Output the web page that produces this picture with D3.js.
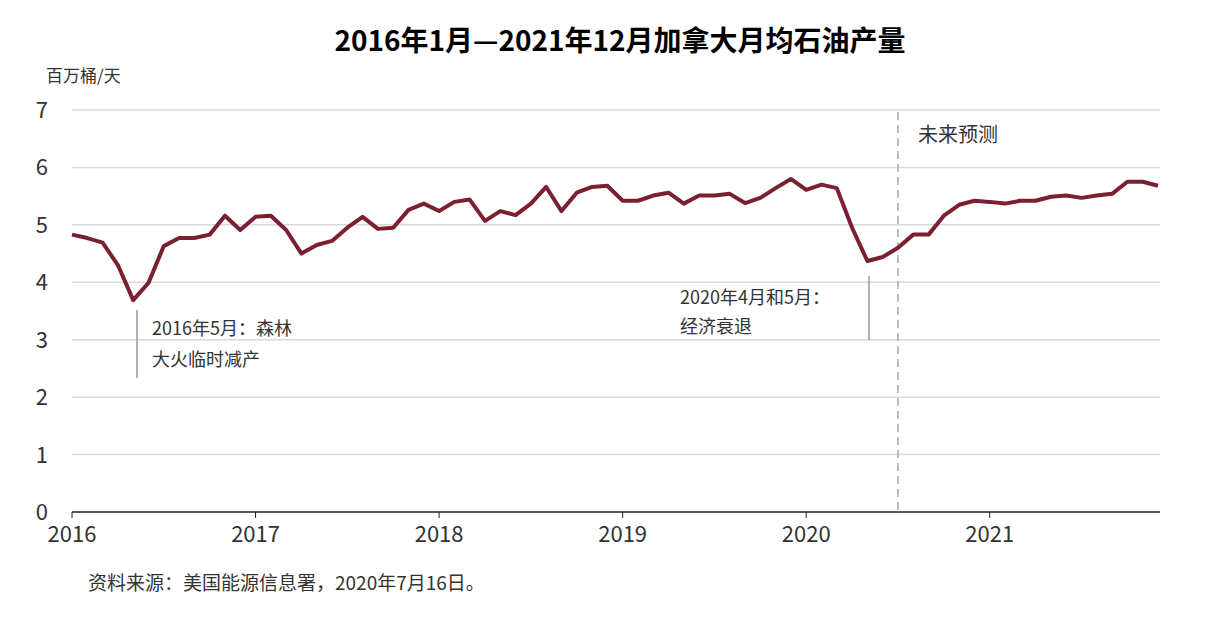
<!DOCTYPE html><html><head><meta charset="utf-8"><script src="https://cdn.jsdelivr.net/npm/d3@7"></script>
<style>body{margin:0;background:#fff}text{font-family:"Noto Sans CJK SC","Noto Sans",sans-serif}</style></head><body><svg id="c" width="1212" height="620"></svg><script>
const years=["2016","2017","2018","2019","2020","2021"];
const yTicks=[0,1,2,3,4,5,6,7];
const values=[4.83,4.77,4.69,4.3,3.69,3.99,4.63,4.77,4.77,4.83,5.16,4.91,
5.14,5.16,4.91,4.5,4.65,4.72,4.95,5.14,4.93,4.95,5.26,5.37,
5.24,5.4,5.44,5.07,5.24,5.17,5.37,5.66,5.24,5.56,5.66,5.68,
5.42,5.42,5.51,5.56,5.37,5.51,5.51,5.54,5.38,5.47,5.64,5.8,
5.61,5.7,5.64,4.95,4.37,4.44,4.6,4.83,4.83,5.16,5.35,5.42,
5.4,5.37,5.42,5.42,5.49,5.51,5.47,5.51,5.54,5.75,5.75,5.68];
const svg=d3.select("#c");
const x=d3.scaleLinear().domain([0,71]).range([72,1158]);
const y=d3.scaleLinear().domain([0,7]).range([512,110]);
svg.append("text").attr("x",620).attr("y",51).attr("text-anchor","middle").attr("font-size",28).attr("font-weight","bold").text("2016年1月—2021年12月加拿大月均石油产量");
svg.append("text").attr("x",46).attr("y",82).attr("font-size",17).attr("fill","#333").text("百万桶/天");
yTicks.forEach(t=>{
 if(t>0)svg.append("line").attr("x1",72).attr("x2",1160).attr("y1",y(t)).attr("y2",y(t)).attr("stroke","#d9d9d9").attr("stroke-width",1.5);
 svg.append("text").attr("x",48).attr("y",y(t)+8).attr("text-anchor","end").attr("font-size",22).attr("fill","#333").text(t);
});
svg.append("line").attr("x1",72).attr("x2",1160).attr("y1",512).attr("y2",512).attr("stroke","#222").attr("stroke-width",1.5);
years.forEach((yr,i)=>{const px=x(i*12);
 svg.append("line").attr("x1",px).attr("x2",px).attr("y1",512).attr("y2",518).attr("stroke","#222");
 svg.append("text").attr("x",px).attr("y",542).attr("text-anchor","middle").attr("font-size",22).attr("fill","#333").text(yr);});
svg.append("line").attr("x1",x(54)).attr("x2",x(54)).attr("y1",112).attr("y2",512).attr("stroke","#aaa").attr("stroke-width",1.5).attr("stroke-dasharray","8,5");
svg.append("text").attr("x",918).attr("y",142).attr("font-size",20).attr("fill","#333").text("未来预测");
svg.append("path").datum(values).attr("fill","none").attr("stroke","#7a2030").attr("stroke-width",4).attr("stroke-linejoin","round")
 .attr("d",d3.line().x((d,i)=>x(i)).y(d=>y(d)));
svg.append("line").attr("x1",137).attr("x2",137).attr("y1",310).attr("y2",378).attr("stroke","#999").attr("stroke-width",1.5);
svg.append("text").attr("x",152).attr("y",335).attr("font-size",18).attr("fill","#333").text("2016年5月：森林");
svg.append("text").attr("x",152).attr("y",366).attr("font-size",18).attr("fill","#333").text("大火临时减产");
svg.append("line").attr("x1",869).attr("x2",869).attr("y1",276).attr("y2",340).attr("stroke","#999").attr("stroke-width",1.5);
svg.append("text").attr("x",680).attr("y",304).attr("font-size",18).attr("fill","#333").text("2020年4月和5月：");
svg.append("text").attr("x",680).attr("y",333).attr("font-size",18).attr("fill","#333").text("经济衰退");
svg.append("text").attr("x",88).attr("y",590).attr("font-size",19).attr("fill","#333").text("资料来源：美国能源信息署，2020年7月16日。");
</script></body></html>
